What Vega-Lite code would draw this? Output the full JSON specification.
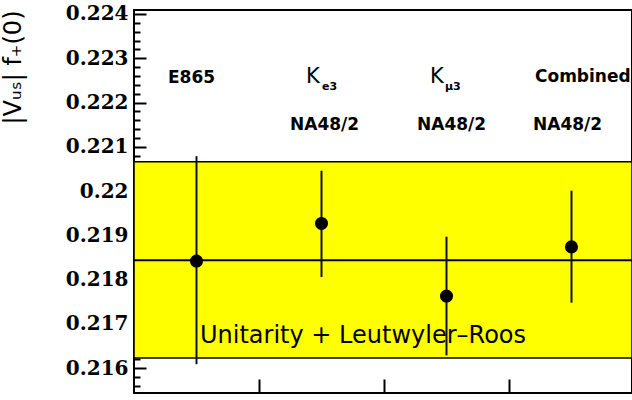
{
  "$schema": "https://vega.github.io/schema/vega-lite/v6.json",
  "width": 498,
  "height": 383,
  "autosize": {"type": "none"},
  "padding": {"left": 134, "top": 10, "right": 0, "bottom": 7},
  "background": "white",
  "config": {"view": {"stroke": "black", "strokeWidth": 2}},
  "datasets": {
    "band": [{"lo": 0.21623, "mid": 0.21844, "hi": 0.22066}],
    "points": [
      {"exp": "E865", "x": 0.5, "v": 0.21842, "lo": 0.21609, "hi": 0.22079},
      {"exp": "Ke3 NA48/2", "x": 1.5, "v": 0.21927, "lo": 0.21806, "hi": 0.22046},
      {"exp": "Kmu3 NA48/2", "x": 2.5, "v": 0.21763, "lo": 0.21629, "hi": 0.21897},
      {"exp": "Combined NA48/2", "x": 3.5, "v": 0.21874, "lo": 0.21748, "hi": 0.22001}
    ],
    "labels": [
      {"x": 0.272, "y": 0.22244, "t": "E865"},
      {"x": 3.208, "y": 0.22246, "t": "Combined"},
      {"x": 1.248, "y": 0.22138, "t": "NA48/2"},
      {"x": 2.264, "y": 0.22138, "t": "NA48/2"},
      {"x": 3.192, "y": 0.22138, "t": "NA48/2"}
    ],
    "kaons": [
      {"x": 1.376, "y": 0.22244, "t": "K"},
      {"x": 2.368, "y": 0.22244, "t": "K"}
    ],
    "subs": [
      {"x": 1.504, "y": 0.22228, "t": "e3"},
      {"x": 2.488, "y": 0.22228, "t": "μ3"}
    ],
    "note": [{"x": 0.528, "y": 0.21657, "t": "Unitarity + Leutwyler–Roos"}]
  },
  "layer": [
    {
      "data": {"name": "band"},
      "mark": {"type": "rect", "fill": "#ffff00", "stroke": "black", "strokeWidth": 1.5},
      "encoding": {
        "y": {
          "field": "lo", "type": "quantitative",
          "scale": {"domain": [0.21544, 0.22409], "nice": false, "zero": false},
          "axis": {
            "title": "|Vᵤₛ|  f₊(0)",
            "titleFont": "DejaVu Sans",
            "titleFontWeight": "normal",
            "titleFontSize": 24,
            "titleColor": "black",
            "titleAnchor": "end",
            "titlePadding": 40,
            "tickCount": 200,
            "values": [0.2156,0.2158,0.216,0.2162,0.2164,0.2166,0.2168,0.217,0.2172,0.2174,0.2176,0.2178,0.218,0.2182,0.2184,0.2186,0.2188,0.219,0.2192,0.2194,0.2196,0.2198,0.22,0.2202,0.2204,0.2206,0.2208,0.221,0.2212,0.2214,0.2216,0.2218,0.222,0.2222,0.2224,0.2226,0.2228,0.223,0.2232,0.2234,0.2236,0.2238,0.224],
            "labelExpr": "abs(datum.value*1000-round(datum.value*1000))<0.01 ? format(datum.value, '.3~f') : ''",
            "labelFont": "DejaVu Serif",
            "labelFontWeight": "bold",
            "labelFontSize": 20,
            "labelColor": "black",
            "labelPadding": 18,
            "labelOverlap": false,
            "labelBound": false,
            "domain": false,
            "grid": false,
            "tickColor": "black",
            "tickWidth": 2,
            "tickSize": {"condition": {"test": "abs(datum.value*1000-round(datum.value*1000))<0.01", "value": -12}, "value": -6}
          }
        },
        "y2": {"field": "hi"}
      }
    },
    {
      "data": {"name": "band"},
      "mark": {"type": "rule", "color": "black", "strokeWidth": 2},
      "encoding": {"y": {"field": "mid", "type": "quantitative"}}
    },
    {
      "data": {"name": "points"},
      "mark": {"type": "rule", "color": "#101030", "strokeWidth": 2},
      "encoding": {
        "x": {
          "field": "x", "type": "quantitative",
          "scale": {"domain": [0, 3.984], "nice": false, "zero": false},
          "axis": {"values": [1, 2, 3], "tickCount": 50, "labels": false, "title": null, "domain": false, "grid": false, "tickColor": "black", "tickWidth": 2, "tickSize": -14}
        },
        "y": {"field": "lo", "type": "quantitative"},
        "y2": {"field": "hi"}
      }
    },
    {
      "data": {"name": "points"},
      "mark": {"type": "point", "shape": "circle", "filled": true, "color": "black", "opacity": 1, "size": 170},
      "encoding": {
        "x": {"field": "x", "type": "quantitative"},
        "y": {"field": "v", "type": "quantitative"}
      }
    },
    {
      "data": {"name": "labels"},
      "mark": {"type": "text", "align": "left", "baseline": "alphabetic", "font": "DejaVu Sans", "fontWeight": "bold", "fontSize": 17, "color": "black"},
      "encoding": {
        "x": {"field": "x", "type": "quantitative"},
        "y": {"field": "y", "type": "quantitative"},
        "text": {"field": "t"}
      }
    },
    {
      "data": {"name": "kaons"},
      "mark": {"type": "text", "align": "left", "baseline": "alphabetic", "font": "DejaVu Sans", "fontWeight": "normal", "fontSize": 21, "color": "black"},
      "encoding": {
        "x": {"field": "x", "type": "quantitative"},
        "y": {"field": "y", "type": "quantitative"},
        "text": {"field": "t"}
      }
    },
    {
      "data": {"name": "subs"},
      "mark": {"type": "text", "align": "left", "baseline": "alphabetic", "font": "DejaVu Sans", "fontWeight": "bold", "fontSize": 11, "color": "black"},
      "encoding": {
        "x": {"field": "x", "type": "quantitative"},
        "y": {"field": "y", "type": "quantitative"},
        "text": {"field": "t"}
      }
    },
    {
      "data": {"name": "note"},
      "mark": {"type": "text", "align": "left", "baseline": "alphabetic", "font": "DejaVu Sans", "fontWeight": "normal", "fontSize": 24, "color": "black"},
      "encoding": {
        "x": {"field": "x", "type": "quantitative"},
        "y": {"field": "y", "type": "quantitative"},
        "text": {"field": "t"}
      }
    }
  ]
}
